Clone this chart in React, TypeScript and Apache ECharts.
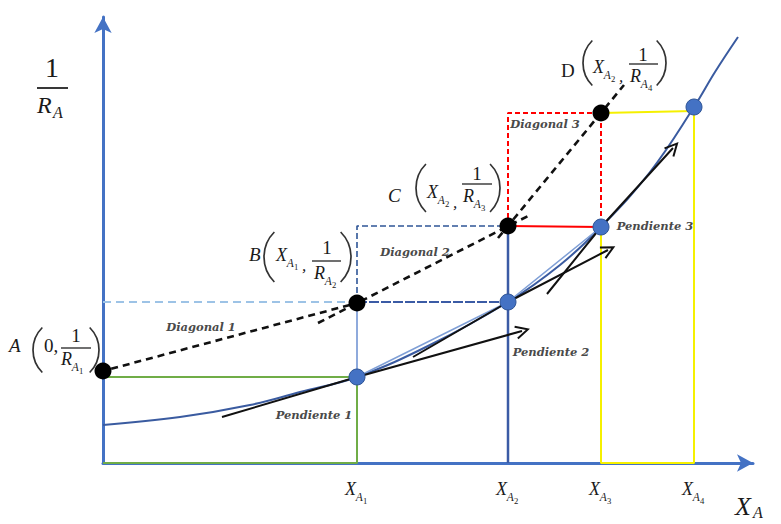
import { useEffect, useRef } from 'react';
import * as echarts from 'echarts';

// Schematic domain: x = X_A (0..650), y = 1/R_A (0..446)
const X_MAX = 650;
const Y_MAX = 446;

const xTickValues = [254, 405, 498, 591];
const xTickSubs = ['1', '2', '3', '4'];

// Curve 1/R_A vs X_A
const curveX = [0, 77, 147, 197, 254, 327, 405, 457, 498, 547, 591, 612, 635];
const curveY = [38, 46, 58, 71, 86, 118, 161, 198, 236, 291, 356, 391, 426];

// Points on the curve (blue)
const curvePtX = [254, 405, 498, 591];
const curvePtY = [86, 161, 236, 356];

// Points A, B, C, D (black)
const diagPtX = [0, 254, 405, 498];
const diagPtY = [92, 160, 237, 350];

// Dashed diagonals
const diagonal1 = [[-15, 88], [254, 160]];
const diagonal2 = [[215, 140], [427, 248]];
const diagonal3 = [[395, 225], [521, 378]];

// Slope lines (with arrow at the end)
const slope1 = [[119, 46], [254, 86], [419, 132]];
const slope2 = [[310, 106], [405, 161], [505, 213]];
const slope3 = [[444, 169], [498, 236], [570, 315]];

// Secants between curve points
const secant = [[254, 86], [405, 161], [498, 236]];

// Construction rectangles
const greenBox = [[0, 0], [254, 0], [254, 86], [0, 86]];
const lightDashed = [[0, 161], [254, 161]];
const lightSolid = [[254, 161], [254, 86]];
const blueDashed = [[254, 161], [254, 237], [405, 237]];
const blueMid = [[254, 161], [405, 161]];
const blueVertical = [[405, 237], [405, 0]];
const redDashed = [[405, 237], [405, 350], [498, 350], [498, 236]];
const redSolid = [[405, 237], [498, 236]];
const yellowTop = [[498, 350], [591, 352]];
const yellowBox = [[498, 236], [498, 0], [591, 0], [591, 356]];

const AXIS = '#4472C4';
const MATH = '"Liberation Serif", "DejaVu Serif", serif';
const WORD = '"DejaVu Serif", serif';

function seg(data: number[][], color: string, width: number, type: any = 'solid', z = 3) {
  return {
    type: 'line',
    data,
    symbol: 'none',
    clip: false,
    silent: true,
    z,
    lineStyle: { color, width, type },
  };
}

function arrowLine(pts: number[][]) {
  const n = pts.length;
  const [x0, y0] = pts[n - 2];
  const [x1, y1] = pts[n - 1];
  const deg = (Math.atan2(y1 - y0, x1 - x0) * 180) / Math.PI;
  return {
    type: 'line',
    clip: false,
    silent: true,
    z: 6,
    symbol: 'circle',
    lineStyle: { color: '#111', width: 2 },
    data: pts.map((p, i) =>
      i === n - 1
        ? {
            value: p,
            symbol: 'path://M0,0L10,5L0,10',
            symbolSize: 12,
            symbolRotate: deg,
            itemStyle: { color: 'none', borderColor: '#111', borderWidth: 2 },
          }
        : { value: p, symbol: 'none' }
    ),
  };
}

function t(x: number, y: number, text: string, size: number, o: any = {}) {
  return {
    type: 'text',
    x,
    y,
    z: 100,
    silent: true,
    style: {
      text,
      fontSize: size,
      fontFamily: o.family || MATH,
      fontStyle: o.italic === false ? 'normal' : 'italic',
      fontWeight: o.weight || 'normal',
      fill: o.fill || '#1a1a1a',
      align: o.align || 'left',
      verticalAlign: 'middle',
    },
  };
}

function subbed(x: number, y: number, base: string, sub: string, subsub: string | null, size: number) {
  const out: any[] = [t(x, y, base, size)];
  const sx = x + size * 0.6;
  const ss = size * 0.64;
  out.push(t(sx, y + size * 0.42, sub, ss));
  if (subsub) out.push(t(sx + ss * 0.62, y + size * 0.64, subsub, size * 0.48, { italic: false }));
  return out;
}

function paren(xEdge: number, cy: number, h: number, left: boolean) {
  const r = h / Math.SQRT2;
  return {
    type: 'arc',
    z: 100,
    silent: true,
    shape: {
      cx: left ? xEdge + r : xEdge - r,
      cy,
      r,
      startAngle: left ? (3 * Math.PI) / 4 : -Math.PI / 4,
      endAngle: left ? (5 * Math.PI) / 4 : Math.PI / 4,
      clockwise: true,
    },
    style: { stroke: '#333', lineWidth: 1.7, fill: 'none' },
  };
}

function bar(x1: number, x2: number, y: number, w = 1.3) {
  return { type: 'line', z: 100, silent: true, shape: { x1, y1: y, x2, y2: y }, style: { stroke: '#222', lineWidth: w } };
}

export default function App() {
  const ref = useRef<HTMLDivElement>(null);

  useEffect(() => {
    if (!ref.current) return;
    const chart = echarts.init(ref.current, null, { renderer: 'svg' });
    const axisLine = {
      show: true,
      onZero: true,
      symbol: ['none', 'arrow'],
      symbolSize: [13, 16],
      lineStyle: { color: AXIS, width: 3 },
    };
    chart.setOption({
      animation: false,
      backgroundColor: '#ffffff',
      grid: { left: 103, right: 781 - 103 - X_MAX, top: 524 - 61 - Y_MAX, bottom: 61 },
      xAxis: {
        type: 'value',
        min: 0,
        max: X_MAX,
        axisLine,
        axisTick: { show: false },
        axisLabel: { show: false },
        splitLine: { show: false },
      },
      yAxis: {
        type: 'value',
        min: 0,
        max: Y_MAX,
        axisLine,
        axisTick: { show: false },
        axisLabel: { show: false },
        splitLine: { show: false },
      },
      series: [
        seg(greenBox, '#70AD47', 2),
        seg(lightDashed, '#9DC3E6', 2, [8, 5]),
        seg(lightSolid, '#8FAADC', 2),
        seg(blueDashed, '#2F5597', 1.6, [6, 3]),
        seg(blueMid, '#3B5BA5', 2, [10, 2]),
        seg(blueVertical, '#3B5BA5', 2.5),
        seg(yellowBox, '#F5F000', 2),
        seg(yellowTop, '#F5F000', 2),
        seg(redDashed, '#FF0000', 2, [5, 3]),
        seg(redSolid, '#FF0000', 2),
        {
          type: 'line',
          data: curveX.map((x, i) => [x, curveY[i]]),
          smooth: 0.4,
          symbol: 'none',
          clip: false,
          silent: true,
          z: 4,
          lineStyle: { color: '#3A5BA0', width: 2 },
        },
        seg(secant, '#7F9FD6', 1.5, 'solid', 4),
        arrowLine(slope1),
        arrowLine(slope2),
        arrowLine(slope3),
        seg(diagonal1, '#111', 2.6, [7, 5], 7),
        seg(diagonal2, '#111', 2.6, [7, 5], 7),
        seg(diagonal3, '#111', 2.6, [7, 5], 7),
        {
          type: 'scatter',
          data: curvePtX.map((x, i) => [x, curvePtY[i]]),
          symbolSize: 16,
          clip: false,
          silent: true,
          z: 10,
          itemStyle: { color: '#4472C4', borderColor: '#2F5597', borderWidth: 1, opacity: 1 },
        },
        {
          type: 'scatter',
          name: 'ABCD',
          data: diagPtX.map((x, i) => [x, diagPtY[i]]),
          symbolSize: 17,
          clip: false,
          silent: true,
          z: 11,
          itemStyle: { color: '#000', opacity: 1 },
        },
      ],
    });

    const g: any[] = [];
    // y-axis name 1 / R_A
    g.push(t(52, 67, '1', 28, { italic: false, align: 'center' }));
    g.push(bar(37, 68, 88, 1.8));
    g.push(t(37, 105, 'R', 24));
    g.push(t(53, 112, 'A', 16));
    // x-axis name X_A
    g.push(t(735, 506, 'X', 26));
    g.push(t(753, 512, 'A', 16));
    // tick labels
    xTickValues.forEach((v, i) => {
      const p = chart.convertToPixel({ gridIndex: 0 }, [v, 0]) as number[];
      g.push(...subbed(p[0] - 12, 489, 'X', 'A', xTickSubs[i], 18));
    });
    // A label
    g.push(t(9, 345, 'A', 19));
    g.push(paren(33, 350, 45, true));
    g.push(t(44, 345, '0,', 19, { italic: false }));
    g.push(t(76, 335, '1', 19, { italic: false, align: 'center' }));
    g.push(bar(61, 91, 348));
    g.push(...subbed(61, 359, 'R', 'A', '1', 18));
    g.push(paren(99, 350, 45, false));
    // B label
    g.push(t(249, 254, 'B', 19));
    g.push(paren(264, 257, 50, true));
    g.push(...subbed(276, 255, 'X', 'A', '1', 18));
    g.push(t(302, 265, ',', 17));
    g.push(t(327, 247, '1', 19, { italic: false, align: 'center' }));
    g.push(bar(312, 341, 261));
    g.push(...subbed(314, 273, 'R', 'A', '2', 18));
    g.push(paren(351, 257, 50, false));
    // C label
    g.push(t(388, 195, 'C', 19));
    g.push(paren(416, 188, 48, true));
    g.push(...subbed(427, 192, 'X', 'A', '2', 18));
    g.push(t(453, 202, ',', 17));
    g.push(t(477, 173, '1', 19, { italic: false, align: 'center' }));
    g.push(bar(462, 492, 184));
    g.push(...subbed(463, 196, 'R', 'A', '3', 18));
    g.push(paren(500, 188, 48, false));
    // D label
    g.push(t(561, 70, 'D', 19, { italic: false }));
    g.push(paren(583, 63, 45, true));
    g.push(...subbed(593, 67, 'X', 'A', '2', 18));
    g.push(t(619, 76, ',', 17));
    g.push(t(643, 54, '1', 19, { italic: false, align: 'center' }));
    g.push(bar(629, 658, 64));
    g.push(...subbed(630, 76, 'R', 'A', '4', 18));
    g.push(paren(666, 63, 45, false));
    // words
    const w = { family: WORD, align: 'center', fill: '#4a4a4a', weight: 'bold' };
    g.push(t(201, 327, 'Diagonal 1', 11.5, w));
    g.push(t(415, 252, 'Diagonal 2', 11.5, w));
    g.push(t(545, 124, 'Diagonal 3', 11.5, w));
    g.push(t(314, 415, 'Pendiente 1', 11.5, w));
    g.push(t(551, 352, 'Pendiente 2', 11.5, w));
    g.push(t(655, 226, 'Pendiente 3', 11.5, w));

    chart.setOption({ graphic: { elements: g } });

    return () => chart.dispose();
  }, []);

  return (
    <div
      ref={ref}
      style={{ position: 'fixed', left: 0, top: 0, width: 781, height: 524, background: '#fff' }}
    />
  );
}
